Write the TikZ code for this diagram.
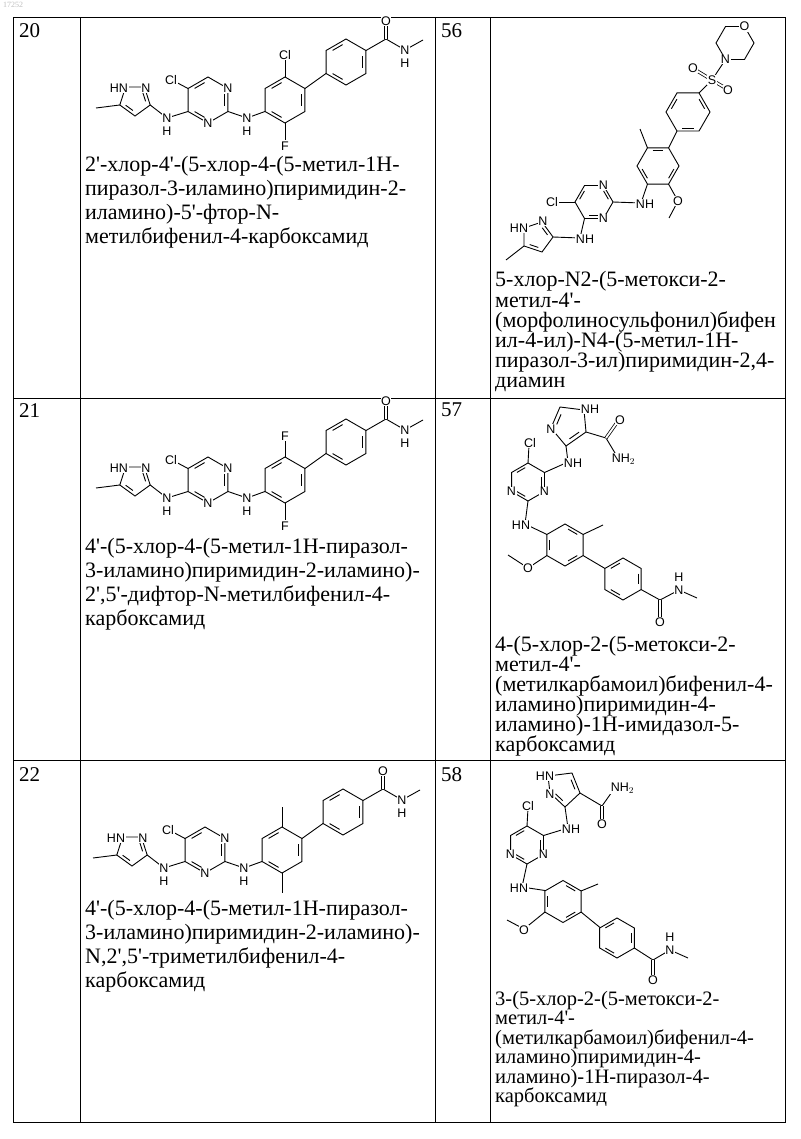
\documentclass[tikz,border=0pt]{standalone}
\usepackage{fontspec}
\setmainfont{Liberation Serif}[Ligatures=TeXOff]
\newfontfamily\chemf{Liberation Sans}
\usetikzlibrary{calc}
\newcounter{atc}
\tikzset{bond/.style={line width=0.9pt},
 dbond/.style={double,double distance=1.8pt,line width=0.75pt},
 atom/.style={fill=white,inner sep=0.6pt,font=\chemf\fontsize{12.5}{13}\selectfont},
 gridline/.style={line width=1pt},
 cname/.style={anchor=base west,font=\fontsize{22}{24}\selectfont,inner sep=0pt},
 cnames/.style={anchor=base west,font=\fontsize{20.5}{22}\selectfont,inner sep=0pt},
 cnum/.style={anchor=north west,font=\fontsize{21}{22}\selectfont,inner sep=0pt}}
\newcommand\at[3][]{\stepcounter{atc}\node[atom,#1] (at\theatc) at (#2) {#3};}
\newcommand\inb[3]{\draw[bond] ($($(#1)!0.18!(#2)$)!0.25!(#3)$) -- ($($(#2)!0.18!(#1)$)!0.25!(#3)$);}
\newcommand\ringp[4]{\draw[bond] ([shift={(#4:#3)}]#1,#2) -- ([shift={(#4+60:#3)}]#1,#2) -- ([shift={(#4+120:#3)}]#1,#2) -- ([shift={(#4+180:#3)}]#1,#2) -- ([shift={(#4+240:#3)}]#1,#2) -- ([shift={(#4+300:#3)}]#1,#2) -- cycle;}
\newcommand\ring[5]{\ringp{#1}{#2}{#3}{#4}\foreach \k in {#5}{\draw[bond] ([shift={({#4+\k*60+11}:{#3*0.77})}]#1,#2) -- ([shift={({#4+\k*60+49}:{#3*0.77})}]#1,#2);}}
\newcommand\leftmol{%
 \draw[bond] (96,108) -- (119.8,105);
 \draw[bond] (119.8,105) -- (125.6,87) -- (144.4,87) -- (150.2,105) -- (135,116) -- cycle;
 \inb{144.4,87}{150.2,105}{135,100}\inb{135,116}{119.8,105}{135,100}
 \draw[bond] (150.2,105) -- (167,118) -- (188,111.5);
 \ring{208}{100}{23}{-90}{1,3,5}
 \draw[bond] (188,88.5) -- (172,80);
 \draw[bond] (228,111.5) -- (247,118) -- (265,111.5);
 \ring{285}{100}{23}{-90}{1,3,5}
 \draw[bond] (305,88.5) -- (326,73.5);
 \ring{346}{62}{23}{-90}{1,3,5}
 \draw[bond] (366,50.5) -- (386,39) -- (405,50) -- (423,40);
 \draw[dbond] (386,39) -- (386,24);
 \at{119,88}{HN}\at{146,88}{N}\at{167,118}{N}\at{167,131}{H}
 \at{171,80}{Cl}\at{228,88.5}{N}\at{208,123}{N}
 \at{247,118}{N}\at{247,131}{H}\at{386,21}{O}\at{405,50}{N}\at{405,63}{H}}
\begin{document}
\begin{tikzpicture}[x=1pt,y=-1pt]
\useasboundingbox (0,0) rectangle (800,1139);
\fill[white] (0,0) rectangle (800,1139);
\node[anchor=north west,inner sep=0pt,text=black!25,font=\fontsize{8}{9}\selectfont] (mark) at (3,2) {17252};
\draw[gridline] (13,18) rectangle (785,1122);
\draw[gridline] (80,18) -- (80,1122) (435,18) -- (435,1122) (490,18) -- (490,1122);
\draw[gridline] (13,398) -- (785,398) (13,760) -- (785,760);
\node[cnum] (n20) at (19,23) {20};
\node[cnum] (n21) at (19,403) {21};
\node[cnum] (n22) at (19,767) {22};
\node[cnum] (n56) at (441,23) {56};
\node[cnum] (n57) at (441,403) {57};
\node[cnum] (n58) at (441,767) {58};
\begin{scope}
\leftmol
\draw[bond] (285,77) -- (285,60); \draw[bond] (285,123) -- (285,140);
\at{285,55}{Cl}\at{285,146}{F}
\end{scope}
\begin{scope}[shift={(0,380)}]
\leftmol
\draw[bond] (285,77) -- (285,60); \draw[bond] (285,123) -- (285,140);
\at{285,56}{F}\at{285,146}{F}
\end{scope}
\begin{scope}[shift={(-3,750)}]
\leftmol
\draw[bond] (285,77) -- (285,57); \draw[bond] (285,123) -- (285,143);
\end{scope}
\node[cname] (t20a) at (85,172) {2'-хлор-4'-(5-хлор-4-(5-метил-1H-};
\node[cname] (t20b) at (85,196) {пиразол-3-иламино)пиримидин-2-};
\node[cname] (t20c) at (85,220) {иламино)-5'-фтор-N-};
\node[cname] (t20d) at (85,244) {метилбифенил-4-карбоксамид};
\node[cname] (t21a) at (85,553) {4'-(5-хлор-4-(5-метил-1H-пиразол-};
\node[cname] (t21b) at (85,577) {3-иламино)пиримидин-2-иламино)-};
\node[cname] (t21c) at (85,601) {2',5'-дифтор-N-метилбифенил-4-};
\node[cname] (t21d) at (85,625) {карбоксамид};
\node[cname] (t22a) at (85,915) {4'-(5-хлор-4-(5-метил-1H-пиразол-};
\node[cname] (t22b) at (85,939) {3-иламино)пиримидин-2-иламино)-};
\node[cname] (t22c) at (85,963) {N,2',5'-триметилбифенил-4-};
\node[cname] (t22d) at (85,987) {карбоксамид};
% molecule 56
\ringp{735}{43}{19}{0}
\draw[bond] (725.5,59.5) -- (712,80);
\draw[dbond] (712,80) -- (694,69); \draw[dbond] (712,80) -- (727,89);
\draw[bond] (712,80) -- (699,93);
\ring{688}{112}{22}{-60}{0,2,4}
\draw[bond] (677,131) -- (668.5,148);
\ring{658}{166}{21}{-60}{1,3,5}
\draw[bond] (647.5,148) -- (640,129);
\draw[bond] (668.5,184) -- (678,201) -- (669,218);
\draw[bond] (647.5,184) -- (641,203) -- (613,202);
\ring{594}{202}{19}{0}{1,3,5}
\draw[bond] (575,202) -- (556,202);
\draw[bond] (584.5,218.5) -- (580,238) -- (553,237);
\draw[bond] (553,237) -- (542,222) -- (524,228) -- (524,246) -- (542,252) -- cycle;
\inb{542,222}{553,237}{537,237}\inb{524,246}{542,252}{537,237}
\draw[bond] (524,246) -- (506,260);
\at{744.5,26.5}{O}\at{725.5,59.5}{N}\at{712,80}{S}\at{693,68}{O}\at{728,90}{O}
\at{678,201}{O}\at{645,204}{NH}\at{603.5,185.5}{N}\at{603.5,218.5}{N}
\at{552,202}{Cl}\at{585,239}{NH}\at{519,228}{HN}\at{543,221}{N}
\node[cname] (t56a) at (495,287) {5-хлор-N2-(5-метокси-2-};
\node[cname] (t56b) at (495,307) {метил-4'-};
\node[cname] (t56c) at (495,327) {(морфолиносульфонил)бифен};
\node[cname] (t56d) at (495,347) {ил-4-ил)-N4-(5-метил-1H-};
\node[cname] (t56e) at (495,367) {пиразол-3-ил)пиримидин-2,4-};
\node[cname] (t56f) at (495,387) {диамин};
% molecule 57
\draw[bond] (584,410) -- (560,407) -- (551,428) -- (566,446) -- (586,432) -- cycle;
\inb{560,407}{551,428}{569,425}\inb{566,446}{586,432}{569,425}
\draw[bond] (586,432) -- (606,438) -- (618,458);
\draw[dbond] (606,438) -- (618,421);
\draw[bond] (566,446) -- (568,462) -- (544.5,472.5);
\ring{528}{482}{19}{-90}{1,3,5}
\draw[bond] (528,463) -- (529,445);
\draw[bond] (528,501) -- (525,524) -- (547,534.5);
\ring{565}{545}{21}{-90}{0,2,4}
\draw[bond] (583,534.5) -- (603,525);
\draw[bond] (547,555.5) -- (528,568) -- (508,555);
\draw[bond] (583,555.5) -- (605,568.5);
\ring{623}{579}{21}{-90}{1,3,5}
\draw[bond] (641,589.5) -- (660,600) -- (679,590) -- (697,598);
\draw[dbond] (660,600) -- (660,618);
\at{590,409}{NH}\at{551,429}{N}\at{620,420}{O}\at[anchor=west]{611,459}{NH$_2$}
\at{573,463}{NH}\at{530,443}{Cl}\at{544.5,491.5}{N}\at{511.5,491.5}{N}
\at{521,525}{HN}\at{528,568}{O}\at{679,590}{N}\at{679,577}{H}\at{660,622}{O}
\node[cname] (t57a) at (495,651) {4-(5-хлор-2-(5-метокси-2-};
\node[cname] (t57b) at (495,671) {метил-4'-};
\node[cname] (t57c) at (495,691) {(метилкарбамоил)бифенил-4-};
\node[cname] (t57d) at (495,711) {иламино)пиримидин-4-};
\node[cname] (t57e) at (495,731) {иламино)-1H-имидазол-5-};
\node[cname] (t57f) at (495,751) {карбоксамид};
% molecule 58
\draw[bond] (548,776) -- (572,773) -- (580,793) -- (565,807) -- (550,793) -- cycle;
\inb{572,773}{580,793}{564,789}\inb{565,807}{550,793}{564,789}
\draw[bond] (580,793) -- (602,806) -- (614,789);
\draw[dbond] (602,806) -- (602,821);
\draw[bond] (565,807) -- (568,828) -- (543.5,835.5);
\ring{527}{845}{19}{-90}{1,3,5}
\draw[bond] (527,826) -- (528,808);
\draw[bond] (527,864) -- (522,887) -- (545,890.5);
\ring{563}{901.5}{21}{-90}{0,2,4}
\draw[bond] (581,891) -- (598,884);
\draw[bond] (545,912) -- (524,929) -- (507,920);
\draw[bond] (581,912) -- (600,927.5);
\ring{617}{938}{20}{-90}{1,3,5}
\draw[bond] (634.3,948) -- (653,960) -- (670,950) -- (688,958);
\draw[dbond] (653,960) -- (653,976);
\at{545,776}{HN}\at{550,794}{N}\at[anchor=west]{610,788}{NH$_2$}\at{602,824}{O}
\at{571,829}{NH}\at{528,806}{Cl}\at{543.5,854.5}{N}\at{510.5,854.5}{N}
\at{519,888}{HN}\at{524,930}{O}\at{670,950}{N}\at{670,937}{H}\at{653,980}{O}
\node[cnames] (t58a) at (495,1005) {3-(5-хлор-2-(5-метокси-2-};
\node[cnames] (t58b) at (495,1024.5) {метил-4'-};
\node[cnames] (t58c) at (495,1044) {(метилкарбамоил)бифенил-4-};
\node[cnames] (t58d) at (495,1063.5) {иламино)пиримидин-4-};
\node[cnames] (t58e) at (495,1083) {иламино)-1H-пиразол-4-};
\node[cnames] (t58f) at (495,1102.5) {карбоксамид};
\end{tikzpicture}
\end{document}
